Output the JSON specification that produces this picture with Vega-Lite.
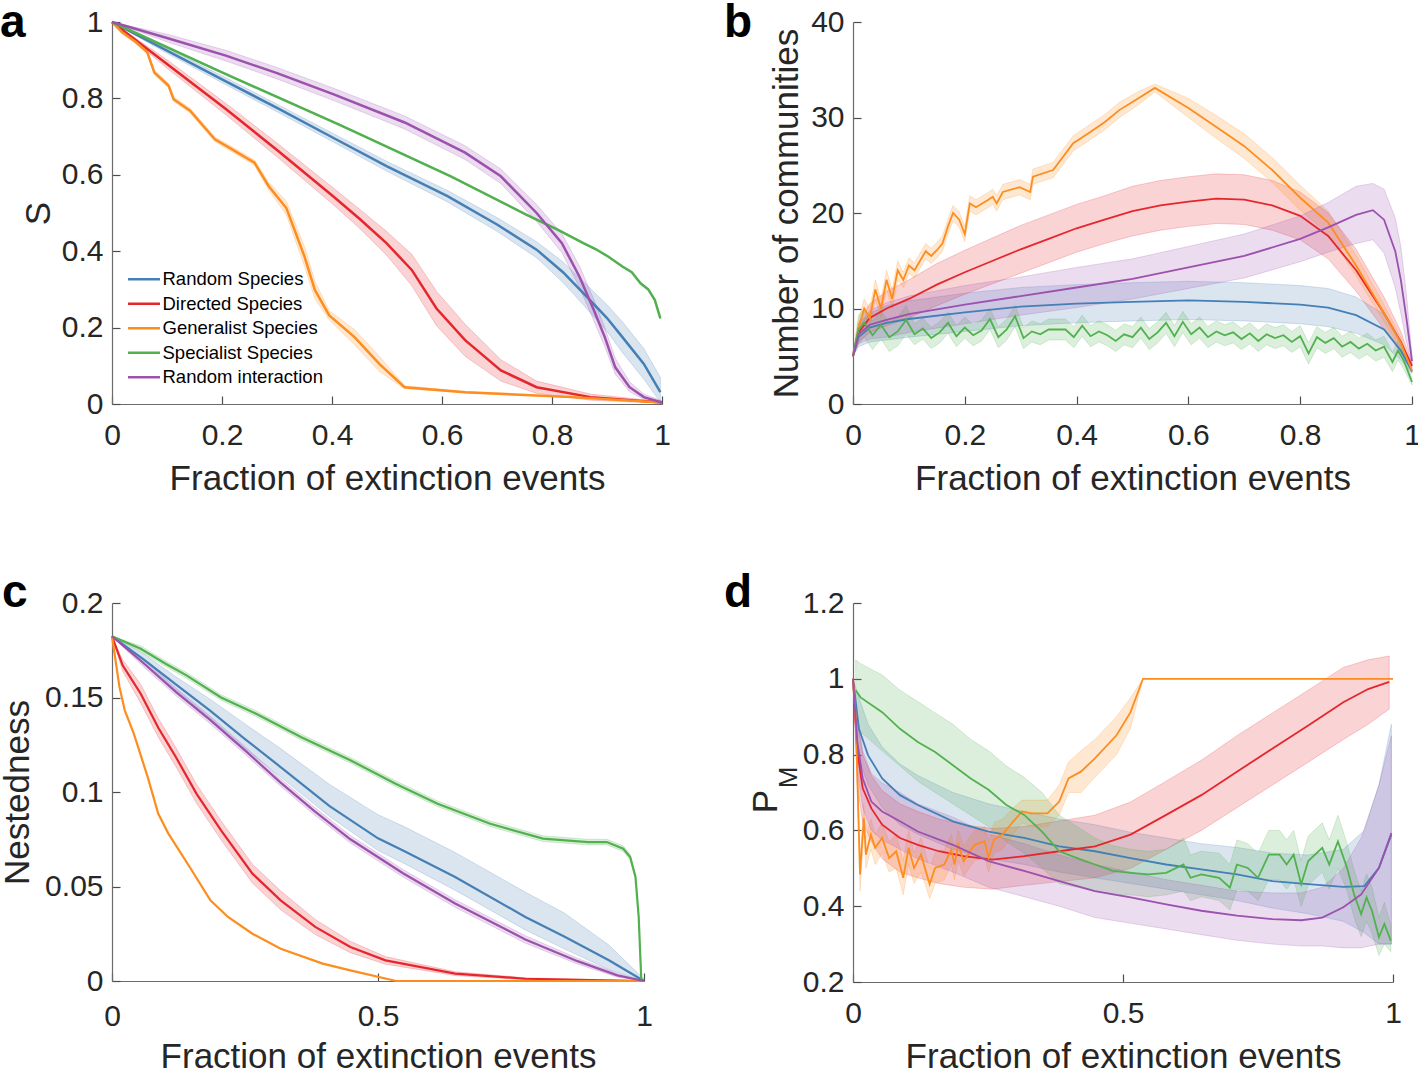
{
"$schema": "https://vega.github.io/schema/vega-lite/v6.json",
"padding": 0,
"background": "white",
"bounds": "flush",
"align": "each",
"columns": 2,
"spacing": {"row": 199, "column": 191},
"config": {
  "view": {"stroke": null},
  "font": "Liberation Sans",
  "axis": {"grid": false, "domainColor": "#6b6b6b", "domainWidth": 1.2, "tickColor": "#4d4d4d", "tickWidth": 1.2, "tickSize": -8, "labelFont": "Liberation Sans", "labelFontSize": 30, "labelColor": "#262626", "labelFlush": false, "labelOverlap": false, "titleFont": "Liberation Sans", "titleFontSize": 35, "titleFontWeight": "normal", "titleColor": "#262626", "titleBaseline": "middle", "titleAlign": "center", "format": "~g"},
  "axisX": {"labelPadding": 24},
  "axisY": {"labelPadding": 17},
  "area": {"fillOpacity": 0.2, "strokeOpacity": 0.22, "strokeWidth": 1}
},
"datasets": {
"a": [
{"s":"RS","x":0,"y":1,"lo":1,"hi":1},{"s":"RS","x":0.1,"y":0.925,"lo":0.918,"hi":0.932},{"s":"RS","x":0.2,"y":0.85,"lo":0.841,"hi":0.859},{"s":"RS","x":0.3,"y":0.775,"lo":0.765,"hi":0.785},{"s":"RS","x":0.402,"y":0.697,"lo":0.686,"hi":0.708},{"s":"RS","x":0.5,"y":0.622,"lo":0.609,"hi":0.635},{"s":"RS","x":0.61,"y":0.544,"lo":0.529,"hi":0.559},{"s":"RS","x":0.7,"y":0.47,"lo":0.452,"hi":0.488},{"s":"RS","x":0.772,"y":0.404,"lo":0.383,"hi":0.425},{"s":"RS","x":0.82,"y":0.345,"lo":0.318,"hi":0.372},{"s":"RS","x":0.863,"y":0.281,"lo":0.25,"hi":0.312},{"s":"RS","x":0.9,"y":0.225,"lo":0.19,"hi":0.26},{"s":"RS","x":0.928,"y":0.175,"lo":0.135,"hi":0.215},{"s":"RS","x":0.967,"y":0.105,"lo":0.065,"hi":0.145},{"s":"RS","x":0.997,"y":0.031,"lo":0.005,"hi":0.07},
{"s":"DS","x":0,"y":1,"lo":1,"hi":1},{"s":"DS","x":0.1,"y":0.89,"lo":0.879,"hi":0.901},{"s":"DS","x":0.207,"y":0.772,"lo":0.757,"hi":0.787},{"s":"DS","x":0.3,"y":0.665,"lo":0.647,"hi":0.683},{"s":"DS","x":0.402,"y":0.544,"lo":0.522,"hi":0.566},{"s":"DS","x":0.45,"y":0.485,"lo":0.46,"hi":0.51},{"s":"DS","x":0.499,"y":0.421,"lo":0.39,"hi":0.452},{"s":"DS","x":0.545,"y":0.351,"lo":0.31,"hi":0.392},{"s":"DS","x":0.59,"y":0.25,"lo":0.205,"hi":0.295},{"s":"DS","x":0.642,"y":0.167,"lo":0.125,"hi":0.209},{"s":"DS","x":0.707,"y":0.088,"lo":0.06,"hi":0.116},{"s":"DS","x":0.772,"y":0.044,"lo":0.028,"hi":0.06},{"s":"DS","x":0.87,"y":0.018,"lo":0.01,"hi":0.026},{"s":"DS","x":1,"y":0.004,"lo":0.002,"hi":0.006},
{"s":"GS","x":0,"y":1,"lo":1,"hi":1},{"s":"GS","x":0.018,"y":0.974,"lo":0.97,"hi":0.978},{"s":"GS","x":0.044,"y":0.947,"lo":0.942,"hi":0.952},{"s":"GS","x":0.064,"y":0.921,"lo":0.916,"hi":0.926},{"s":"GS","x":0.077,"y":0.868,"lo":0.862,"hi":0.874},{"s":"GS","x":0.103,"y":0.833,"lo":0.827,"hi":0.839},{"s":"GS","x":0.112,"y":0.798,"lo":0.792,"hi":0.804},{"s":"GS","x":0.142,"y":0.768,"lo":0.762,"hi":0.774},{"s":"GS","x":0.187,"y":0.693,"lo":0.687,"hi":0.699},{"s":"GS","x":0.213,"y":0.671,"lo":0.664,"hi":0.678},{"s":"GS","x":0.259,"y":0.632,"lo":0.625,"hi":0.639},{"s":"GS","x":0.285,"y":0.57,"lo":0.56,"hi":0.58},{"s":"GS","x":0.317,"y":0.513,"lo":0.495,"hi":0.531},{"s":"GS","x":0.35,"y":0.386,"lo":0.36,"hi":0.412},{"s":"GS","x":0.369,"y":0.298,"lo":0.275,"hi":0.321},{"s":"GS","x":0.395,"y":0.232,"lo":0.22,"hi":0.244},{"s":"GS","x":0.441,"y":0.175,"lo":0.155,"hi":0.195},{"s":"GS","x":0.486,"y":0.105,"lo":0.085,"hi":0.125},{"s":"GS","x":0.532,"y":0.044,"lo":0.04,"hi":0.048},{"s":"GS","x":0.642,"y":0.031,"lo":0.029,"hi":0.033},{"s":"GS","x":0.837,"y":0.018,"lo":0.016,"hi":0.02},{"s":"GS","x":1,"y":0.004,"lo":0.003,"hi":0.005},
{"s":"SS","x":0,"y":1,"lo":1,"hi":1},{"s":"SS","x":0.2,"y":0.868,"lo":0.866,"hi":0.87},{"s":"SS","x":0.415,"y":0.73,"lo":0.728,"hi":0.732},{"s":"SS","x":0.616,"y":0.596,"lo":0.594,"hi":0.598},{"s":"SS","x":0.753,"y":0.496,"lo":0.494,"hi":0.498},{"s":"SS","x":0.811,"y":0.456,"lo":0.454,"hi":0.458},{"s":"SS","x":0.857,"y":0.421,"lo":0.419,"hi":0.423},{"s":"SS","x":0.88,"y":0.405,"lo":0.403,"hi":0.407},{"s":"SS","x":0.902,"y":0.386,"lo":0.384,"hi":0.388},{"s":"SS","x":0.928,"y":0.36,"lo":0.358,"hi":0.362},{"s":"SS","x":0.945,"y":0.345,"lo":0.343,"hi":0.347},{"s":"SS","x":0.961,"y":0.316,"lo":0.314,"hi":0.318},{"s":"SS","x":0.975,"y":0.3,"lo":0.298,"hi":0.302},{"s":"SS","x":0.987,"y":0.272,"lo":0.27,"hi":0.274},{"s":"SS","x":0.997,"y":0.224,"lo":0.222,"hi":0.226},
{"s":"RI","x":0,"y":1,"lo":1,"hi":1},{"s":"RI","x":0.1,"y":0.958,"lo":0.948,"hi":0.968},{"s":"RI","x":0.207,"y":0.912,"lo":0.898,"hi":0.926},{"s":"RI","x":0.3,"y":0.866,"lo":0.851,"hi":0.881},{"s":"RI","x":0.402,"y":0.811,"lo":0.795,"hi":0.827},{"s":"RI","x":0.532,"y":0.737,"lo":0.72,"hi":0.754},{"s":"RI","x":0.642,"y":0.658,"lo":0.64,"hi":0.676},{"s":"RI","x":0.707,"y":0.596,"lo":0.577,"hi":0.615},{"s":"RI","x":0.772,"y":0.5,"lo":0.478,"hi":0.522},{"s":"RI","x":0.818,"y":0.421,"lo":0.396,"hi":0.446},{"s":"RI","x":0.85,"y":0.333,"lo":0.305,"hi":0.361},{"s":"RI","x":0.876,"y":0.246,"lo":0.218,"hi":0.274},{"s":"RI","x":0.896,"y":0.175,"lo":0.15,"hi":0.2},{"s":"RI","x":0.915,"y":0.096,"lo":0.078,"hi":0.12},{"s":"RI","x":0.941,"y":0.044,"lo":0.032,"hi":0.058},{"s":"RI","x":0.967,"y":0.018,"lo":0.012,"hi":0.026},{"s":"RI","x":1,"y":0.004,"lo":0.002,"hi":0.008}
],
"b": [
{"s":"RS","x":0,"y":5,"lo":5,"hi":5},{"s":"RS","x":0.01,"y":7,"lo":6,"hi":8},{"s":"RS","x":0.03,"y":8,"lo":6.5,"hi":9.5},{"s":"RS","x":0.06,"y":8.5,"lo":6.7,"hi":10.3},{"s":"RS","x":0.1,"y":8.9,"lo":7,"hi":10.8},{"s":"RS","x":0.2,"y":9.6,"lo":7.6,"hi":11.6},{"s":"RS","x":0.3,"y":10.2,"lo":8.2,"hi":12.2},{"s":"RS","x":0.4,"y":10.5,"lo":8.5,"hi":12.5},{"s":"RS","x":0.5,"y":10.7,"lo":8.7,"hi":12.7},{"s":"RS","x":0.6,"y":10.85,"lo":8.85,"hi":12.85},{"s":"RS","x":0.7,"y":10.7,"lo":8.7,"hi":12.7},{"s":"RS","x":0.8,"y":10.4,"lo":8.4,"hi":12.4},{"s":"RS","x":0.85,"y":10.1,"lo":8.1,"hi":12.1},{"s":"RS","x":0.9,"y":9.3,"lo":7.4,"hi":11.2},{"s":"RS","x":0.95,"y":7.8,"lo":6.2,"hi":9.4},{"s":"RS","x":0.98,"y":5.6,"lo":4.6,"hi":6.6},{"s":"RS","x":1,"y":3.4,"lo":3.2,"hi":3.6},
{"s":"DS","x":0,"y":5,"lo":5,"hi":5},{"s":"DS","x":0.01,"y":7.5,"lo":6.5,"hi":8.5},{"s":"DS","x":0.03,"y":9,"lo":7.5,"hi":10.5},{"s":"DS","x":0.06,"y":10,"lo":8.2,"hi":11.8},{"s":"DS","x":0.1,"y":11,"lo":9,"hi":13},{"s":"DS","x":0.15,"y":12.5,"lo":10.3,"hi":14.7},{"s":"DS","x":0.2,"y":13.8,"lo":11.5,"hi":16.1},{"s":"DS","x":0.25,"y":15,"lo":12.6,"hi":17.4},{"s":"DS","x":0.3,"y":16.2,"lo":13.7,"hi":18.7},{"s":"DS","x":0.35,"y":17.3,"lo":14.8,"hi":19.8},{"s":"DS","x":0.4,"y":18.4,"lo":15.9,"hi":20.9},{"s":"DS","x":0.45,"y":19.3,"lo":16.8,"hi":21.8},{"s":"DS","x":0.5,"y":20.2,"lo":17.6,"hi":22.8},{"s":"DS","x":0.55,"y":20.8,"lo":18.2,"hi":23.4},{"s":"DS","x":0.6,"y":21.2,"lo":18.6,"hi":23.8},{"s":"DS","x":0.65,"y":21.5,"lo":18.9,"hi":24.1},{"s":"DS","x":0.7,"y":21.4,"lo":18.8,"hi":24},{"s":"DS","x":0.75,"y":20.8,"lo":18.2,"hi":23.4},{"s":"DS","x":0.8,"y":19.7,"lo":17.2,"hi":22.2},{"s":"DS","x":0.85,"y":17.6,"lo":15.2,"hi":20},{"s":"DS","x":0.9,"y":14,"lo":11.8,"hi":16.2},{"s":"DS","x":0.95,"y":9.5,"lo":7.8,"hi":11.2},{"s":"DS","x":0.98,"y":6.5,"lo":5.4,"hi":7.6},{"s":"DS","x":1,"y":4,"lo":3.8,"hi":4.2},
{"s":"GS","x":0,"y":5,"lo":5,"hi":5},{"s":"GS","x":0.01,"y":8,"lo":7.2,"hi":8.8},{"s":"GS","x":0.02,"y":10,"lo":9,"hi":11},{"s":"GS","x":0.03,"y":9,"lo":8,"hi":10},{"s":"GS","x":0.04,"y":12,"lo":11,"hi":13},{"s":"GS","x":0.05,"y":10,"lo":9,"hi":11},{"s":"GS","x":0.06,"y":13,"lo":12,"hi":14},{"s":"GS","x":0.07,"y":11,"lo":10,"hi":12},{"s":"GS","x":0.08,"y":14,"lo":13,"hi":15},{"s":"GS","x":0.09,"y":13,"lo":12.2,"hi":13.8},{"s":"GS","x":0.1,"y":14.5,"lo":13.7,"hi":15.3},{"s":"GS","x":0.11,"y":14,"lo":13.2,"hi":14.8},{"s":"GS","x":0.12,"y":15,"lo":14.2,"hi":15.8},{"s":"GS","x":0.13,"y":16,"lo":15.2,"hi":16.8},{"s":"GS","x":0.14,"y":15.5,"lo":14.7,"hi":16.3},{"s":"GS","x":0.15,"y":16.1,"lo":15.3,"hi":16.9},{"s":"GS","x":0.16,"y":16.8,"lo":16,"hi":17.6},{"s":"GS","x":0.17,"y":18.6,"lo":17.8,"hi":19.4},{"s":"GS","x":0.179,"y":20,"lo":19.2,"hi":20.8},{"s":"GS","x":0.19,"y":19.3,"lo":18.5,"hi":20.1},{"s":"GS","x":0.2,"y":17.8,"lo":17,"hi":18.6},{"s":"GS","x":0.209,"y":21,"lo":20.2,"hi":21.8},{"s":"GS","x":0.22,"y":20.6,"lo":19.8,"hi":21.4},{"s":"GS","x":0.24,"y":21.3,"lo":20.5,"hi":22.1},{"s":"GS","x":0.25,"y":21.7,"lo":20.9,"hi":22.5},{"s":"GS","x":0.257,"y":21,"lo":20.2,"hi":21.8},{"s":"GS","x":0.268,"y":22.2,"lo":21.4,"hi":23},{"s":"GS","x":0.298,"y":22.7,"lo":21.9,"hi":23.5},{"s":"GS","x":0.317,"y":22.2,"lo":21.4,"hi":23},{"s":"GS","x":0.322,"y":23.8,"lo":23,"hi":24.6},{"s":"GS","x":0.358,"y":24.5,"lo":23.7,"hi":25.3},{"s":"GS","x":0.394,"y":27.3,"lo":26.5,"hi":28.1},{"s":"GS","x":0.42,"y":28.3,"lo":27.5,"hi":29.1},{"s":"GS","x":0.45,"y":29.5,"lo":28.7,"hi":30.3},{"s":"GS","x":0.477,"y":30.8,"lo":30,"hi":31.6},{"s":"GS","x":0.51,"y":32,"lo":31.3,"hi":32.7},{"s":"GS","x":0.54,"y":33.1,"lo":32.7,"hi":33.5},{"s":"GS","x":0.6,"y":31,"lo":30,"hi":32},{"s":"GS","x":0.65,"y":29,"lo":27.8,"hi":30.2},{"s":"GS","x":0.7,"y":27,"lo":25.7,"hi":28.3},{"s":"GS","x":0.75,"y":24.5,"lo":23.2,"hi":25.8},{"s":"GS","x":0.8,"y":21.6,"lo":20.3,"hi":22.9},{"s":"GS","x":0.85,"y":19,"lo":17.8,"hi":20.2},{"s":"GS","x":0.9,"y":14.5,"lo":13.4,"hi":15.6},{"s":"GS","x":0.95,"y":9.5,"lo":8.6,"hi":10.4},{"s":"GS","x":0.98,"y":6.4,"lo":5.8,"hi":7},{"s":"GS","x":1,"y":3.5,"lo":3.3,"hi":3.7},
{"s":"SS","x":0,"y":5.2,"lo":5,"hi":5.4},{"s":"SS","x":0.01,"y":7.8,"lo":6.3,"hi":9.3},{"s":"SS","x":0.02,"y":8.5,"lo":7,"hi":10},{"s":"SS","x":0.035,"y":7.2,"lo":5.7,"hi":8.7},{"s":"SS","x":0.05,"y":8.3,"lo":6.8,"hi":9.8},{"s":"SS","x":0.065,"y":7,"lo":5.5,"hi":8.5},{"s":"SS","x":0.08,"y":7.6,"lo":6.1,"hi":9.1},{"s":"SS","x":0.095,"y":8.8,"lo":7.3,"hi":10.3},{"s":"SS","x":0.11,"y":7.3,"lo":6.2,"hi":8.4},{"s":"SS","x":0.125,"y":7.9,"lo":6.8,"hi":9},{"s":"SS","x":0.14,"y":6.9,"lo":5.8,"hi":8},{"s":"SS","x":0.155,"y":7.5,"lo":6.4,"hi":8.6},{"s":"SS","x":0.17,"y":8.5,"lo":7.4,"hi":9.6},{"s":"SS","x":0.185,"y":7.1,"lo":6,"hi":8.2},{"s":"SS","x":0.2,"y":8,"lo":6.9,"hi":9.1},{"s":"SS","x":0.215,"y":7.2,"lo":6.1,"hi":8.3},{"s":"SS","x":0.23,"y":7.7,"lo":6.6,"hi":8.8},{"s":"SS","x":0.245,"y":8.9,"lo":7.8,"hi":10},{"s":"SS","x":0.26,"y":7,"lo":5.9,"hi":8.1},{"s":"SS","x":0.275,"y":7.8,"lo":6.7,"hi":8.9},{"s":"SS","x":0.29,"y":9.2,"lo":8.1,"hi":10.3},{"s":"SS","x":0.305,"y":6.9,"lo":5.8,"hi":8},{"s":"SS","x":0.32,"y":7.6,"lo":6.5,"hi":8.7},{"s":"SS","x":0.335,"y":7.3,"lo":6.2,"hi":8.4},{"s":"SS","x":0.35,"y":7.8,"lo":6.7,"hi":8.9},{"s":"SS","x":0.38,"y":7.8,"lo":6.7,"hi":8.9},{"s":"SS","x":0.395,"y":7,"lo":5.9,"hi":8.1},{"s":"SS","x":0.41,"y":8.2,"lo":7.1,"hi":9.3},{"s":"SS","x":0.425,"y":7.1,"lo":6,"hi":8.2},{"s":"SS","x":0.44,"y":7.6,"lo":6.5,"hi":8.7},{"s":"SS","x":0.455,"y":7.2,"lo":6.1,"hi":8.3},{"s":"SS","x":0.47,"y":6.6,"lo":5.5,"hi":7.7},{"s":"SS","x":0.485,"y":7.3,"lo":6.2,"hi":8.4},{"s":"SS","x":0.5,"y":7,"lo":5.9,"hi":8.1},{"s":"SS","x":0.515,"y":8,"lo":6.9,"hi":9.1},{"s":"SS","x":0.53,"y":6.8,"lo":5.7,"hi":7.9},{"s":"SS","x":0.545,"y":7.5,"lo":6.4,"hi":8.6},{"s":"SS","x":0.56,"y":8.5,"lo":7.4,"hi":9.6},{"s":"SS","x":0.575,"y":7.1,"lo":6,"hi":8.2},{"s":"SS","x":0.59,"y":8.6,"lo":7.5,"hi":9.7},{"s":"SS","x":0.605,"y":7.3,"lo":6.2,"hi":8.4},{"s":"SS","x":0.62,"y":8,"lo":6.9,"hi":9.1},{"s":"SS","x":0.635,"y":7,"lo":5.9,"hi":8.1},{"s":"SS","x":0.65,"y":7.6,"lo":6.5,"hi":8.7},{"s":"SS","x":0.665,"y":7.2,"lo":6.1,"hi":8.3},{"s":"SS","x":0.68,"y":7.5,"lo":6.4,"hi":8.6},{"s":"SS","x":0.695,"y":6.8,"lo":5.7,"hi":7.9},{"s":"SS","x":0.71,"y":7.4,"lo":6.3,"hi":8.5},{"s":"SS","x":0.725,"y":6.6,"lo":5.5,"hi":7.7},{"s":"SS","x":0.74,"y":7.3,"lo":6.2,"hi":8.4},{"s":"SS","x":0.755,"y":6.9,"lo":5.8,"hi":8},{"s":"SS","x":0.77,"y":7.2,"lo":6.1,"hi":8.3},{"s":"SS","x":0.785,"y":6.5,"lo":5.4,"hi":7.6},{"s":"SS","x":0.8,"y":7.1,"lo":6,"hi":8.2},{"s":"SS","x":0.815,"y":5.3,"lo":4.2,"hi":6.4},{"s":"SS","x":0.83,"y":7,"lo":5.9,"hi":8.1},{"s":"SS","x":0.845,"y":6.4,"lo":5.3,"hi":7.5},{"s":"SS","x":0.86,"y":6.9,"lo":5.8,"hi":8},{"s":"SS","x":0.875,"y":6,"lo":4.9,"hi":7.1},{"s":"SS","x":0.89,"y":6.5,"lo":5.4,"hi":7.6},{"s":"SS","x":0.905,"y":5.8,"lo":4.7,"hi":6.9},{"s":"SS","x":0.92,"y":6.3,"lo":5.2,"hi":7.4},{"s":"SS","x":0.935,"y":5.6,"lo":4.5,"hi":6.7},{"s":"SS","x":0.95,"y":6,"lo":4.9,"hi":7.1},{"s":"SS","x":0.965,"y":4.4,"lo":3.4,"hi":5.4},{"s":"SS","x":0.975,"y":5.6,"lo":4.6,"hi":6.6},{"s":"SS","x":0.985,"y":4.6,"lo":3.7,"hi":5.5},{"s":"SS","x":1,"y":2.3,"lo":2,"hi":2.6},
{"s":"RI","x":0,"y":5,"lo":5,"hi":5},{"s":"RI","x":0.01,"y":7.3,"lo":6.3,"hi":8.3},{"s":"RI","x":0.03,"y":8.3,"lo":6.8,"hi":9.8},{"s":"RI","x":0.06,"y":8.8,"lo":7,"hi":10.6},{"s":"RI","x":0.1,"y":9.4,"lo":7.5,"hi":11.3},{"s":"RI","x":0.2,"y":10.4,"lo":8.4,"hi":12.4},{"s":"RI","x":0.3,"y":11.3,"lo":9.3,"hi":13.3},{"s":"RI","x":0.4,"y":12.2,"lo":10.1,"hi":14.3},{"s":"RI","x":0.5,"y":13.1,"lo":11,"hi":15.2},{"s":"RI","x":0.6,"y":14.3,"lo":12.1,"hi":16.5},{"s":"RI","x":0.7,"y":15.5,"lo":13.2,"hi":17.8},{"s":"RI","x":0.8,"y":17.3,"lo":14.9,"hi":19.7},{"s":"RI","x":0.85,"y":18.5,"lo":15.9,"hi":21.1},{"s":"RI","x":0.9,"y":19.8,"lo":16.8,"hi":22.8},{"s":"RI","x":0.93,"y":20.3,"lo":17.2,"hi":23.1},{"s":"RI","x":0.95,"y":19.3,"lo":15.8,"hi":22.5},{"s":"RI","x":0.97,"y":16,"lo":12.2,"hi":19.5},{"s":"RI","x":0.98,"y":13,"lo":9.5,"hi":16.5},{"s":"RI","x":0.99,"y":9,"lo":6.5,"hi":11.5},{"s":"RI","x":1,"y":4.5,"lo":4,"hi":5}
],
"c": [
{"s":"RS","x":0,"y":0.1824,"lo":0.1824,"hi":0.1824},{"s":"RS","x":0.06,"y":0.17,"lo":0.168,"hi":0.173},{"s":"RS","x":0.12,"y":0.157,"lo":0.154,"hi":0.161},{"s":"RS","x":0.185,"y":0.1429,"lo":0.139,"hi":0.149},{"s":"RS","x":0.25,"y":0.128,"lo":0.123,"hi":0.136},{"s":"RS","x":0.317,"y":0.1132,"lo":0.108,"hi":0.123},{"s":"RS","x":0.409,"y":0.0925,"lo":0.087,"hi":0.104},{"s":"RS","x":0.5,"y":0.0755,"lo":0.069,"hi":0.088},{"s":"RS","x":0.547,"y":0.0691,"lo":0.0625,"hi":0.082},{"s":"RS","x":0.645,"y":0.055,"lo":0.048,"hi":0.068},{"s":"RS","x":0.777,"y":0.0339,"lo":0.027,"hi":0.047},{"s":"RS","x":0.85,"y":0.0235,"lo":0.017,"hi":0.036},{"s":"RS","x":0.934,"y":0.011,"lo":0.006,"hi":0.019},{"s":"RS","x":1,"y":0,"lo":0,"hi":0.001},
{"s":"DS","x":0,"y":0.1824,"lo":0.1824,"hi":0.1824},{"s":"DS","x":0.02,"y":0.167,"lo":0.164,"hi":0.17},{"s":"DS","x":0.054,"y":0.152,"lo":0.147,"hi":0.157},{"s":"DS","x":0.087,"y":0.134,"lo":0.129,"hi":0.139},{"s":"DS","x":0.12,"y":0.1185,"lo":0.1135,"hi":0.1235},{"s":"DS","x":0.159,"y":0.099,"lo":0.094,"hi":0.104},{"s":"DS","x":0.205,"y":0.0797,"lo":0.0747,"hi":0.0847},{"s":"DS","x":0.264,"y":0.0568,"lo":0.0518,"hi":0.0618},{"s":"DS","x":0.317,"y":0.0427,"lo":0.0377,"hi":0.0477},{"s":"DS","x":0.382,"y":0.0286,"lo":0.0246,"hi":0.0326},{"s":"DS","x":0.448,"y":0.018,"lo":0.015,"hi":0.021},{"s":"DS","x":0.514,"y":0.0109,"lo":0.0089,"hi":0.0129},{"s":"DS","x":0.645,"y":0.0039,"lo":0.0029,"hi":0.0049},{"s":"DS","x":0.777,"y":0.0012,"lo":0.0007,"hi":0.0017},{"s":"DS","x":1,"y":0,"lo":0,"hi":0},
{"s":"GS","x":0,"y":0.1824,"lo":0.1824,"hi":0.1824},{"s":"GS","x":0.014,"y":0.1556,"lo":0.1556,"hi":0.1556},{"s":"GS","x":0.024,"y":0.1432,"lo":0.1432,"hi":0.1432},{"s":"GS","x":0.041,"y":0.1309,"lo":0.1309,"hi":0.1309},{"s":"GS","x":0.067,"y":0.108,"lo":0.108,"hi":0.108},{"s":"GS","x":0.087,"y":0.0885,"lo":0.0885,"hi":0.0885},{"s":"GS","x":0.106,"y":0.078,"lo":0.078,"hi":0.078},{"s":"GS","x":0.146,"y":0.0603,"lo":0.0603,"hi":0.0603},{"s":"GS","x":0.185,"y":0.0427,"lo":0.0427,"hi":0.0427},{"s":"GS","x":0.218,"y":0.0339,"lo":0.0339,"hi":0.0339},{"s":"GS","x":0.264,"y":0.025,"lo":0.025,"hi":0.025},{"s":"GS","x":0.317,"y":0.0171,"lo":0.0171,"hi":0.0171},{"s":"GS","x":0.396,"y":0.0092,"lo":0.0092,"hi":0.0092},{"s":"GS","x":0.448,"y":0.0056,"lo":0.0056,"hi":0.0056},{"s":"GS","x":0.534,"y":0,"lo":0,"hi":0},{"s":"GS","x":1,"y":0,"lo":0,"hi":0},
{"s":"SS","x":0,"y":0.1824,"lo":0.1824,"hi":0.1824},{"s":"SS","x":0.054,"y":0.1758,"lo":0.1743,"hi":0.1773},{"s":"SS","x":0.1,"y":0.168,"lo":0.1665,"hi":0.1695},{"s":"SS","x":0.14,"y":0.1617,"lo":0.1602,"hi":0.1632},{"s":"SS","x":0.205,"y":0.15,"lo":0.1485,"hi":0.1515},{"s":"SS","x":0.271,"y":0.1414,"lo":0.1399,"hi":0.1429},{"s":"SS","x":0.356,"y":0.129,"lo":0.1275,"hi":0.1305},{"s":"SS","x":0.448,"y":0.1168,"lo":0.1153,"hi":0.1183},{"s":"SS","x":0.533,"y":0.1044,"lo":0.1029,"hi":0.1059},{"s":"SS","x":0.612,"y":0.0938,"lo":0.0923,"hi":0.0953},{"s":"SS","x":0.711,"y":0.0832,"lo":0.0817,"hi":0.0847},{"s":"SS","x":0.81,"y":0.0753,"lo":0.0738,"hi":0.0768},{"s":"SS","x":0.895,"y":0.0735,"lo":0.072,"hi":0.075},{"s":"SS","x":0.93,"y":0.0735,"lo":0.072,"hi":0.075},{"s":"SS","x":0.961,"y":0.07,"lo":0.0685,"hi":0.0715},{"s":"SS","x":0.974,"y":0.0656,"lo":0.0641,"hi":0.0671},{"s":"SS","x":0.984,"y":0.055,"lo":0.0535,"hi":0.0565},{"s":"SS","x":0.99,"y":0.034,"lo":0.033,"hi":0.035},{"s":"SS","x":0.995,"y":0,"lo":0,"hi":0},
{"s":"RI","x":0,"y":0.1824,"lo":0.1824,"hi":0.1824},{"s":"RI","x":0.06,"y":0.168,"lo":0.166,"hi":0.17},{"s":"RI","x":0.12,"y":0.153,"lo":0.151,"hi":0.155},{"s":"RI","x":0.185,"y":0.138,"lo":0.136,"hi":0.14},{"s":"RI","x":0.25,"y":0.122,"lo":0.12,"hi":0.124},{"s":"RI","x":0.317,"y":0.105,"lo":0.103,"hi":0.107},{"s":"RI","x":0.38,"y":0.09,"lo":0.088,"hi":0.092},{"s":"RI","x":0.448,"y":0.075,"lo":0.073,"hi":0.077},{"s":"RI","x":0.547,"y":0.057,"lo":0.055,"hi":0.059},{"s":"RI","x":0.645,"y":0.041,"lo":0.039,"hi":0.043},{"s":"RI","x":0.777,"y":0.022,"lo":0.02,"hi":0.024},{"s":"RI","x":0.875,"y":0.0105,"lo":0.009,"hi":0.012},{"s":"RI","x":0.95,"y":0.003,"lo":0.002,"hi":0.004},{"s":"RI","x":1,"y":0,"lo":0,"hi":0}
],
"d": [
{"s":"RS","x":0,"y":1,"lo":1,"hi":1},{"s":"RS","x":0.011,"y":0.868,"lo":0.79,"hi":0.95},{"s":"RS","x":0.028,"y":0.798,"lo":0.72,"hi":0.88},{"s":"RS","x":0.054,"y":0.737,"lo":0.66,"hi":0.82},{"s":"RS","x":0.087,"y":0.693,"lo":0.615,"hi":0.775},{"s":"RS","x":0.12,"y":0.667,"lo":0.59,"hi":0.745},{"s":"RS","x":0.185,"y":0.624,"lo":0.55,"hi":0.7},{"s":"RS","x":0.251,"y":0.597,"lo":0.525,"hi":0.67},{"s":"RS","x":0.317,"y":0.58,"lo":0.51,"hi":0.65},{"s":"RS","x":0.382,"y":0.558,"lo":0.49,"hi":0.63},{"s":"RS","x":0.448,"y":0.545,"lo":0.475,"hi":0.615},{"s":"RS","x":0.514,"y":0.527,"lo":0.46,"hi":0.595},{"s":"RS","x":0.58,"y":0.51,"lo":0.445,"hi":0.58},{"s":"RS","x":0.645,"y":0.497,"lo":0.43,"hi":0.565},{"s":"RS","x":0.711,"y":0.484,"lo":0.415,"hi":0.555},{"s":"RS","x":0.777,"y":0.466,"lo":0.395,"hi":0.54},{"s":"RS","x":0.843,"y":0.458,"lo":0.38,"hi":0.535},{"s":"RS","x":0.908,"y":0.451,"lo":0.36,"hi":0.55},{"s":"RS","x":0.947,"y":0.453,"lo":0.33,"hi":0.6},{"s":"RS","x":0.974,"y":0.501,"lo":0.3,"hi":0.72},{"s":"RS","x":0.997,"y":0.589,"lo":0.3,"hi":0.88},
{"s":"DS","x":0,"y":1,"lo":1,"hi":1},{"s":"DS","x":0.008,"y":0.807,"lo":0.72,"hi":0.89},{"s":"DS","x":0.018,"y":0.711,"lo":0.62,"hi":0.8},{"s":"DS","x":0.034,"y":0.658,"lo":0.57,"hi":0.745},{"s":"DS","x":0.054,"y":0.615,"lo":0.525,"hi":0.705},{"s":"DS","x":0.087,"y":0.58,"lo":0.49,"hi":0.67},{"s":"DS","x":0.12,"y":0.562,"lo":0.475,"hi":0.65},{"s":"DS","x":0.159,"y":0.545,"lo":0.46,"hi":0.63},{"s":"DS","x":0.205,"y":0.532,"lo":0.45,"hi":0.615},{"s":"DS","x":0.258,"y":0.523,"lo":0.445,"hi":0.605},{"s":"DS","x":0.317,"y":0.532,"lo":0.455,"hi":0.61},{"s":"DS","x":0.382,"y":0.545,"lo":0.465,"hi":0.625},{"s":"DS","x":0.448,"y":0.558,"lo":0.475,"hi":0.64},{"s":"DS","x":0.514,"y":0.589,"lo":0.5,"hi":0.675},{"s":"DS","x":0.58,"y":0.641,"lo":0.55,"hi":0.73},{"s":"DS","x":0.645,"y":0.693,"lo":0.6,"hi":0.785},{"s":"DS","x":0.711,"y":0.755,"lo":0.66,"hi":0.85},{"s":"DS","x":0.777,"y":0.816,"lo":0.72,"hi":0.91},{"s":"DS","x":0.843,"y":0.877,"lo":0.78,"hi":0.97},{"s":"DS","x":0.908,"y":0.938,"lo":0.84,"hi":1.03},{"s":"DS","x":0.954,"y":0.973,"lo":0.88,"hi":1.05},{"s":"DS","x":0.993,"y":0.992,"lo":0.92,"hi":1.06},
{"s":"GS","x":0,"y":1,"lo":1,"hi":1},{"s":"GS","x":0.005,"y":0.9,"lo":0.86,"hi":0.94},{"s":"GS","x":0.013,"y":0.484,"lo":0.44,"hi":0.52},{"s":"GS","x":0.02,"y":0.632,"lo":0.59,"hi":0.67},{"s":"GS","x":0.024,"y":0.536,"lo":0.5,"hi":0.58},{"s":"GS","x":0.033,"y":0.589,"lo":0.55,"hi":0.63},{"s":"GS","x":0.041,"y":0.554,"lo":0.51,"hi":0.59},{"s":"GS","x":0.054,"y":0.58,"lo":0.54,"hi":0.62},{"s":"GS","x":0.067,"y":0.527,"lo":0.49,"hi":0.57},{"s":"GS","x":0.08,"y":0.545,"lo":0.5,"hi":0.59},{"s":"GS","x":0.093,"y":0.475,"lo":0.43,"hi":0.52},{"s":"GS","x":0.103,"y":0.554,"lo":0.51,"hi":0.6},{"s":"GS","x":0.113,"y":0.501,"lo":0.46,"hi":0.54},{"s":"GS","x":0.126,"y":0.536,"lo":0.49,"hi":0.58},{"s":"GS","x":0.142,"y":0.458,"lo":0.42,"hi":0.5},{"s":"GS","x":0.152,"y":0.501,"lo":0.46,"hi":0.54},{"s":"GS","x":0.169,"y":0.51,"lo":0.47,"hi":0.55},{"s":"GS","x":0.182,"y":0.549,"lo":0.51,"hi":0.59},{"s":"GS","x":0.188,"y":0.51,"lo":0.47,"hi":0.55},{"s":"GS","x":0.195,"y":0.562,"lo":0.52,"hi":0.6},{"s":"GS","x":0.205,"y":0.519,"lo":0.48,"hi":0.56},{"s":"GS","x":0.225,"y":0.562,"lo":0.52,"hi":0.6},{"s":"GS","x":0.244,"y":0.571,"lo":0.53,"hi":0.61},{"s":"GS","x":0.251,"y":0.527,"lo":0.49,"hi":0.57},{"s":"GS","x":0.261,"y":0.576,"lo":0.54,"hi":0.62},{"s":"GS","x":0.277,"y":0.589,"lo":0.55,"hi":0.63},{"s":"GS","x":0.297,"y":0.624,"lo":0.59,"hi":0.66},{"s":"GS","x":0.313,"y":0.65,"lo":0.62,"hi":0.68},{"s":"GS","x":0.33,"y":0.645,"lo":0.61,"hi":0.68},{"s":"GS","x":0.36,"y":0.645,"lo":0.61,"hi":0.68},{"s":"GS","x":0.382,"y":0.676,"lo":0.64,"hi":0.72},{"s":"GS","x":0.399,"y":0.737,"lo":0.7,"hi":0.78},{"s":"GS","x":0.422,"y":0.755,"lo":0.7,"hi":0.81},{"s":"GS","x":0.448,"y":0.79,"lo":0.74,"hi":0.84},{"s":"GS","x":0.488,"y":0.851,"lo":0.8,"hi":0.9},{"s":"GS","x":0.514,"y":0.912,"lo":0.87,"hi":0.95},{"s":"GS","x":0.537,"y":1,"lo":1,"hi":1},{"s":"GS","x":1,"y":1,"lo":1,"hi":1},
{"s":"SS","x":0.005,"y":0.97,"lo":0.88,"hi":1.05},{"s":"SS","x":0.014,"y":0.951,"lo":0.86,"hi":1.04},{"s":"SS","x":0.054,"y":0.912,"lo":0.81,"hi":1.01},{"s":"SS","x":0.087,"y":0.868,"lo":0.77,"hi":0.97},{"s":"SS","x":0.12,"y":0.833,"lo":0.73,"hi":0.94},{"s":"SS","x":0.152,"y":0.807,"lo":0.7,"hi":0.91},{"s":"SS","x":0.185,"y":0.772,"lo":0.67,"hi":0.88},{"s":"SS","x":0.218,"y":0.737,"lo":0.64,"hi":0.84},{"s":"SS","x":0.251,"y":0.707,"lo":0.61,"hi":0.81},{"s":"SS","x":0.284,"y":0.667,"lo":0.57,"hi":0.77},{"s":"SS","x":0.317,"y":0.641,"lo":0.54,"hi":0.74},{"s":"SS","x":0.35,"y":0.597,"lo":0.5,"hi":0.7},{"s":"SS","x":0.382,"y":0.545,"lo":0.46,"hi":0.64},{"s":"SS","x":0.415,"y":0.527,"lo":0.45,"hi":0.61},{"s":"SS","x":0.448,"y":0.51,"lo":0.44,"hi":0.58},{"s":"SS","x":0.481,"y":0.493,"lo":0.43,"hi":0.56},{"s":"SS","x":0.514,"y":0.488,"lo":0.43,"hi":0.55},{"s":"SS","x":0.547,"y":0.484,"lo":0.425,"hi":0.545},{"s":"SS","x":0.58,"y":0.488,"lo":0.43,"hi":0.55},{"s":"SS","x":0.612,"y":0.51,"lo":0.44,"hi":0.58},{"s":"SS","x":0.625,"y":0.475,"lo":0.415,"hi":0.535},{"s":"SS","x":0.645,"y":0.484,"lo":0.425,"hi":0.545},{"s":"SS","x":0.678,"y":0.475,"lo":0.415,"hi":0.54},{"s":"SS","x":0.698,"y":0.449,"lo":0.39,"hi":0.51},{"s":"SS","x":0.711,"y":0.51,"lo":0.445,"hi":0.575},{"s":"SS","x":0.731,"y":0.501,"lo":0.44,"hi":0.565},{"s":"SS","x":0.75,"y":0.475,"lo":0.415,"hi":0.54},{"s":"SS","x":0.77,"y":0.536,"lo":0.47,"hi":0.6},{"s":"SS","x":0.79,"y":0.536,"lo":0.47,"hi":0.6},{"s":"SS","x":0.803,"y":0.51,"lo":0.445,"hi":0.575},{"s":"SS","x":0.816,"y":0.536,"lo":0.47,"hi":0.6},{"s":"SS","x":0.83,"y":0.458,"lo":0.4,"hi":0.52},{"s":"SS","x":0.843,"y":0.519,"lo":0.455,"hi":0.585},{"s":"SS","x":0.869,"y":0.554,"lo":0.49,"hi":0.62},{"s":"SS","x":0.882,"y":0.51,"lo":0.445,"hi":0.575},{"s":"SS","x":0.898,"y":0.571,"lo":0.5,"hi":0.64},{"s":"SS","x":0.915,"y":0.501,"lo":0.44,"hi":0.565},{"s":"SS","x":0.928,"y":0.431,"lo":0.37,"hi":0.495},{"s":"SS","x":0.941,"y":0.379,"lo":0.32,"hi":0.44},{"s":"SS","x":0.951,"y":0.423,"lo":0.36,"hi":0.485},{"s":"SS","x":0.961,"y":0.388,"lo":0.33,"hi":0.45},{"s":"SS","x":0.974,"y":0.318,"lo":0.27,"hi":0.37},{"s":"SS","x":0.984,"y":0.353,"lo":0.3,"hi":0.41},{"s":"SS","x":0.996,"y":0.309,"lo":0.28,"hi":0.35},
{"s":"RI","x":0,"y":1,"lo":1,"hi":1},{"s":"RI","x":0.008,"y":0.833,"lo":0.76,"hi":0.9},{"s":"RI","x":0.018,"y":0.737,"lo":0.66,"hi":0.81},{"s":"RI","x":0.034,"y":0.676,"lo":0.6,"hi":0.75},{"s":"RI","x":0.054,"y":0.65,"lo":0.575,"hi":0.725},{"s":"RI","x":0.087,"y":0.624,"lo":0.55,"hi":0.7},{"s":"RI","x":0.12,"y":0.597,"lo":0.525,"hi":0.67},{"s":"RI","x":0.185,"y":0.562,"lo":0.49,"hi":0.635},{"s":"RI","x":0.251,"y":0.519,"lo":0.45,"hi":0.59},{"s":"RI","x":0.317,"y":0.493,"lo":0.425,"hi":0.565},{"s":"RI","x":0.382,"y":0.466,"lo":0.4,"hi":0.535},{"s":"RI","x":0.448,"y":0.44,"lo":0.37,"hi":0.51},{"s":"RI","x":0.514,"y":0.423,"lo":0.355,"hi":0.49},{"s":"RI","x":0.58,"y":0.405,"lo":0.34,"hi":0.47},{"s":"RI","x":0.645,"y":0.388,"lo":0.325,"hi":0.455},{"s":"RI","x":0.711,"y":0.375,"lo":0.31,"hi":0.44},{"s":"RI","x":0.777,"y":0.366,"lo":0.3,"hi":0.435},{"s":"RI","x":0.83,"y":0.363,"lo":0.295,"hi":0.435},{"s":"RI","x":0.869,"y":0.37,"lo":0.295,"hi":0.45},{"s":"RI","x":0.908,"y":0.397,"lo":0.29,"hi":0.5},{"s":"RI","x":0.941,"y":0.431,"lo":0.29,"hi":0.58},{"s":"RI","x":0.974,"y":0.501,"lo":0.3,"hi":0.72},{"s":"RI","x":0.997,"y":0.593,"lo":0.3,"hi":0.85}
]
},
"resolve": {"scale": {"color": "independent", "fill": "independent", "stroke": "independent"}, "legend": {"color": "independent"}},
"concat": [
{
"width": 550, "height": 382,
"title": {"text": "a", "anchor": "start", "frame": "group", "dx": -112, "dy": 76, "offset": 0, "baseline": "alphabetic", "fontSize": 46, "fontWeight": "bold", "font": "Liberation Sans", "color": "black"},
"data": {"name": "a"},
"layer": [
{"mark": {"type": "area"},
 "encoding": {
  "x": {"field": "x", "type": "quantitative", "scale": {"domain": [0, 1], "nice": false}, "axis": {"values": [0, 0.2, 0.4, 0.6, 0.8, 1], "title": "Fraction of extinction events", "titleY": 74}},
  "y": {"field": "lo", "type": "quantitative", "scale": {"domain": [0, 1], "nice": false}, "axis": {"values": [0, 0.2, 0.4, 0.6, 0.8, 1], "title": "S", "titleX": -74}},
  "y2": {"field": "hi"},
  "fill": {"field": "s", "type": "nominal", "scale": {"domain": ["RI", "SS", "GS", "DS", "RS"], "range": ["#9b51ad", "#52b14f", "#fd8d1e", "#e5262d", "#447fb5"]}, "legend": null},
  "stroke": {"field": "s", "type": "nominal", "scale": {"domain": ["RI", "SS", "GS", "DS", "RS"], "range": ["#9b51ad", "#52b14f", "#fd8d1e", "#e5262d", "#447fb5"]}, "legend": null}
 }},
{"mark": {"type": "line", "strokeWidth": 2.5},
 "encoding": {
  "x": {"field": "x", "type": "quantitative", "scale": {"domain": [0, 1], "nice": false}, "axis": {"values": [0, 0.2, 0.4, 0.6, 0.8, 1], "title": "Fraction of extinction events", "titleY": 74}},
  "y": {"field": "y", "type": "quantitative", "scale": {"domain": [0, 1], "nice": false}, "axis": {"values": [0, 0.2, 0.4, 0.6, 0.8, 1], "title": "S", "titleX": -74}},
  "color": {"field": "s", "type": "nominal", "scale": {"domain": ["RS", "DS", "GS", "SS", "RI"], "range": ["#447fb5", "#e5262d", "#fd8d1e", "#52b14f", "#9b51ad"]},
   "legend": {"orient": "bottom-left", "offset": 17, "direction": "vertical", "title": null, "symbolType": "M-2.05,0H4.35", "symbolSize": 100, "symbolStrokeWidth": 2.5, "labelFontSize": 18.5, "labelFont": "Liberation Sans", "labelColor": "black", "labelOffset": 15, "labelLimit": 400, "rowPadding": 5.5, "padding": 0,
    "labelExpr": "datum.label == 'RS' ? 'Random Species' : datum.label == 'DS' ? 'Directed Species' : datum.label == 'GS' ? 'Generalist Species' : datum.label == 'SS' ? 'Specialist Species' : 'Random interaction'"}}
 }}
]
},
{
"width": 559, "height": 382,
"title": {"text": "b", "anchor": "start", "frame": "group", "dx": -129, "dy": 76, "offset": 0, "baseline": "alphabetic", "fontSize": 46, "fontWeight": "bold", "font": "Liberation Sans", "color": "black"},
"data": {"name": "b"},
"layer": [
{"mark": {"type": "area"},
 "encoding": {
  "x": {"field": "x", "type": "quantitative", "scale": {"domain": [0, 1], "nice": false}, "axis": {"values": [0, 0.2, 0.4, 0.6, 0.8, 1], "title": "Fraction of extinction events", "titleY": 74}},
  "y": {"field": "lo", "type": "quantitative", "scale": {"domain": [0, 40], "nice": false}, "axis": {"values": [0, 10, 20, 30, 40], "format": "d", "title": "Number of communities", "titleX": -67}},
  "y2": {"field": "hi"},
  "fill": {"field": "s", "type": "nominal", "scale": {"domain": ["RI", "SS", "GS", "DS", "RS"], "range": ["#9b51ad", "#52b14f", "#fd8d1e", "#e5262d", "#447fb5"]}, "legend": null},
  "stroke": {"field": "s", "type": "nominal", "scale": {"domain": ["RI", "SS", "GS", "DS", "RS"], "range": ["#9b51ad", "#52b14f", "#fd8d1e", "#e5262d", "#447fb5"]}, "legend": null}
 }},
{"mark": {"type": "line", "strokeWidth": 1.8},
 "encoding": {
  "x": {"field": "x", "type": "quantitative", "scale": {"domain": [0, 1], "nice": false}, "axis": {"values": [0, 0.2, 0.4, 0.6, 0.8, 1], "title": "Fraction of extinction events", "titleY": 74}},
  "y": {"field": "y", "type": "quantitative", "scale": {"domain": [0, 40], "nice": false}, "axis": {"values": [0, 10, 20, 30, 40], "format": "d", "title": "Number of communities", "titleX": -67}},
  "color": {"field": "s", "type": "nominal", "scale": {"domain": ["RS", "DS", "GS", "SS", "RI"], "range": ["#447fb5", "#e5262d", "#fd8d1e", "#52b14f", "#9b51ad"]}, "legend": null}
 }}
]
},
{
"width": 532, "height": 378,
"title": {"text": "c", "anchor": "start", "frame": "group", "dx": -110, "dy": 65, "offset": 0, "baseline": "alphabetic", "fontSize": 46, "fontWeight": "bold", "font": "Liberation Sans", "color": "black"},
"data": {"name": "c"},
"layer": [
{"mark": {"type": "area"},
 "encoding": {
  "x": {"field": "x", "type": "quantitative", "scale": {"domain": [0, 1], "nice": false}, "axis": {"values": [0, 0.5, 1], "labelPadding": 28, "title": "Fraction of extinction events", "titleY": 75}},
  "y": {"field": "lo", "type": "quantitative", "scale": {"domain": [0, 0.2], "nice": false}, "axis": {"values": [0, 0.05, 0.1, 0.15, 0.2], "title": "Nestedness", "titleX": -95}},
  "y2": {"field": "hi"},
  "fill": {"field": "s", "type": "nominal", "scale": {"domain": ["RI", "SS", "GS", "DS", "RS"], "range": ["#9b51ad", "#52b14f", "#fd8d1e", "#e5262d", "#447fb5"]}, "legend": null},
  "stroke": {"field": "s", "type": "nominal", "scale": {"domain": ["RI", "SS", "GS", "DS", "RS"], "range": ["#9b51ad", "#52b14f", "#fd8d1e", "#e5262d", "#447fb5"]}, "legend": null}
 }},
{"mark": {"type": "line", "strokeWidth": 2.2},
 "encoding": {
  "x": {"field": "x", "type": "quantitative", "scale": {"domain": [0, 1], "nice": false}, "axis": {"values": [0, 0.5, 1], "labelPadding": 28, "title": "Fraction of extinction events", "titleY": 75}},
  "y": {"field": "y", "type": "quantitative", "scale": {"domain": [0, 0.2], "nice": false}, "axis": {"values": [0, 0.05, 0.1, 0.15, 0.2], "title": "Nestedness", "titleX": -95}},
  "color": {"field": "s", "type": "nominal", "scale": {"domain": ["RS", "DS", "GS", "SS", "RI"], "range": ["#447fb5", "#e5262d", "#fd8d1e", "#52b14f", "#9b51ad"]}, "legend": null}
 }}
]
},
{
"width": 540, "height": 379,
"title": {"text": "d", "anchor": "start", "frame": "group", "dx": -129, "dy": 65, "offset": 0, "baseline": "alphabetic", "fontSize": 46, "fontWeight": "bold", "font": "Liberation Sans", "color": "black"},
"data": {"name": "d"},
"resolve": {"axis": {"y": "independent"}},
"layer": [
{"mark": {"type": "area"},
 "encoding": {
  "x": {"field": "x", "type": "quantitative", "scale": {"domain": [0, 1], "nice": false}, "axis": {"values": [0, 0.5, 1], "title": "Fraction of extinction events", "titleY": 74}},
  "y": {"field": "lo", "type": "quantitative", "scale": {"domain": [0.2, 1.2], "nice": false, "zero": false}, "axis": {"orient": "left", "values": [0.2, 0.4, 0.6, 0.8, 1, 1.2], "title": "P", "titleX": -88, "titleY": 198}},
  "y2": {"field": "hi"},
  "fill": {"field": "s", "type": "nominal", "scale": {"domain": ["RI", "SS", "GS", "DS", "RS"], "range": ["#9b51ad", "#52b14f", "#fd8d1e", "#e5262d", "#447fb5"]}, "legend": null},
  "stroke": {"field": "s", "type": "nominal", "scale": {"domain": ["RI", "SS", "GS", "DS", "RS"], "range": ["#9b51ad", "#52b14f", "#fd8d1e", "#e5262d", "#447fb5"]}, "legend": null}
 }},
{"mark": {"type": "line", "strokeWidth": 1.8},
 "encoding": {
  "x": {"field": "x", "type": "quantitative", "scale": {"domain": [0, 1], "nice": false}, "axis": {"values": [0, 0.5, 1], "title": "Fraction of extinction events", "titleY": 74}},
  "y": {"field": "y", "type": "quantitative", "scale": {"domain": [0.2, 1.2], "nice": false, "zero": false}, "axis": {"orient": "right", "title": "M", "domain": false, "ticks": false, "labels": false, "titleFontSize": 26, "titleAngle": -90, "titleX": -605, "titleY": 174}},
  "color": {"field": "s", "type": "nominal", "scale": {"domain": ["RS", "DS", "GS", "SS", "RI"], "range": ["#447fb5", "#e5262d", "#fd8d1e", "#52b14f", "#9b51ad"]}, "legend": null}
 }}
]
}
]
}
